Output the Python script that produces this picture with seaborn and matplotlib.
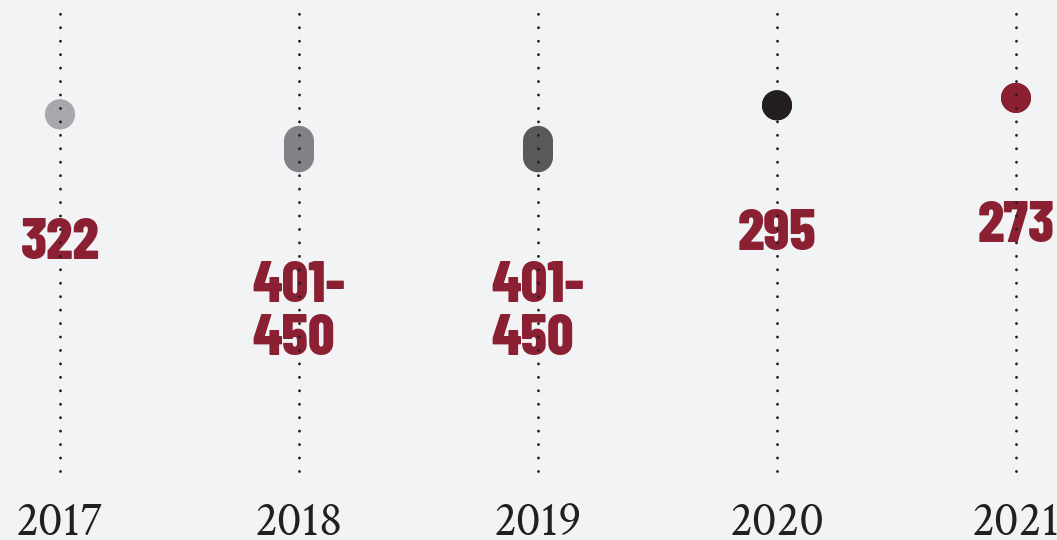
import numpy as np
import pandas as pd
import seaborn as sns
import matplotlib.pyplot as plt

years = ["2017", "2018", "2019", "2020", "2021"]
rank_best = [322, 401, 401, 295, 273]
rank_worst = [322, 450, 450, 295, 273]
rank_labels = ["322", "401-\n450", "401-\n450", "295", "273"]
year_colors = ["#a7a9ac", "#808285", "#58595b", "#231f20", "#8c2033"]

BG = "#f2f3f5"
RED = "#8c2033"
LABEL_FONT = ["Barlow Condensed", "Liberation Sans Narrow", "DejaVu Sans"]
YEAR_FONT = ["Crimson Text", "Liberation Serif", "DejaVu Serif"]

sns.set_theme(style="white", rc={"axes.facecolor": BG, "figure.facecolor": BG})

df = pd.DataFrame({
    "year": years * 2,
    "rank": rank_best + rank_worst,
})

fig = plt.figure(figsize=(10.57, 5.40), dpi=100)
ax = fig.add_axes([0, 45 / 540, 1, 495 / 540])

palette = dict(zip(years, year_colors))
sns.scatterplot(data=df, x="year", y="rank", hue="year", palette=palette,
                s=21.6 ** 2, edgecolor="none", legend=False, ax=ax, zorder=2)

# ranges drawn as thick bars between the two end dots -> pill shapes
for i, (lo, hi, c) in enumerate(zip(rank_best, rank_worst, year_colors)):
    if hi != lo:
        ax.plot([i, i], [lo, hi], color=c, lw=21.6, solid_capstyle="butt", zorder=2)
    ax.axvline(i, ymin=1 - 471.3 / 495, ymax=1 - 11 / 495, color="#231f20",
               lw=2.1, linestyle=(0, (0.01, 4.6)), dash_capstyle="round", zorder=4)
    ax.annotate(rank_labels[i], xy=(i, hi), xytext=(0, -74.5), textcoords="offset points",
                ha="center", va="top", multialignment="left", linespacing=1.05,
                fontsize=42, fontweight=800, color=RED,
                family=LABEL_FONT, zorder=3)

ax.set_xlim(-60 / 239, 4 + 41 / 239)
ax.set_ylim(1457, -19)
ax.set_xlabel("")
ax.set_ylabel("")
ax.set_yticks([])
ax.set_xticks(range(len(years)))
ax.set_xticklabels(years, fontsize=35, color="#231f20", family=YEAR_FONT)
ax.tick_params(axis="x", length=0, pad=4.5)
sns.despine(ax=ax, left=True, bottom=True)

plt.savefig("out.png", dpi=100, facecolor=BG)
